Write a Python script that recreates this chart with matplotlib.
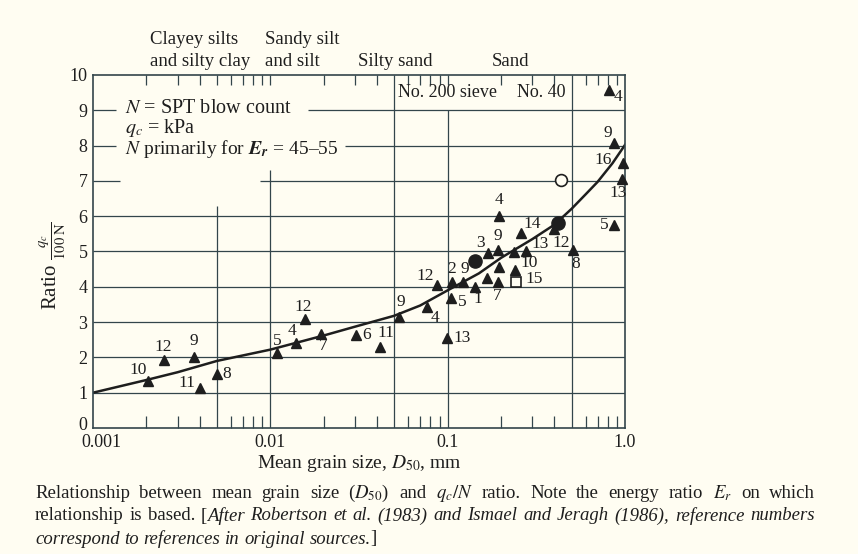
import matplotlib.pyplot as plt
from matplotlib.ticker import FixedLocator, NullFormatter, NullLocator
from matplotlib.transforms import ScaledTranslation

plt.rcParams['font.family'] = ['Liberation Serif', 'DejaVu Serif']
plt.rcParams['mathtext.fontset'] = 'stix'

# filled triangles: mean grain size (mm), ratio qc/100N, reference number
tri_x = [0.00203, 0.00252, 0.00371, 0.00399, 0.0050, 0.0109, 0.0140, 0.0156, 0.0193, 0.0305,
         0.0413, 0.0531, 0.0767, 0.0986, 0.105, 0.0875, 0.1055, 0.122, 0.1426, 0.166,
         0.191, 0.196, 0.239, 0.169, 0.193, 0.237, 0.278, 0.258, 0.196, 0.399,
         0.510, 0.870, 0.870, 0.978, 0.957, 0.809]
tri_y = [1.33, 1.93, 2.00, 1.12, 1.53, 2.12, 2.40, 3.09, 2.65, 2.63,
         2.30, 3.14, 3.44, 2.54, 3.67, 4.05, 4.14, 4.14, 3.99, 4.24,
         4.14, 4.57, 4.48, 4.97, 5.04, 4.98, 5.02, 5.53, 6.01, 5.64,
         5.04, 5.75, 8.07, 7.50, 7.05, 9.58]
tri_lab = ['10', '12', '9', '11', '8', '5', '4', '12', '7', '6',
           '11', '9', '4', '13', '5', '12', '2', '9', '1', '',
           '7', '', '10', '3', '9', '', '13', '14', '4', '12',
           '8', '5', '9', '16', '13', '4']

# other symbols
dot_x = [0.1417, 0.419]
dot_y = [4.74, 5.80]
ring_x = [0.437]
ring_y = [7.03]
sq_x = [0.242]
sq_y = [4.13]
sq_lab = ['15']

# fitted relationship
curve_x = [0.001, 0.002, 0.003, 0.005, 0.01, 0.02, 0.03, 0.05, 0.07, 0.1,
           0.15, 0.2, 0.3, 0.4, 0.5, 0.6, 0.7, 0.85, 1.0]
curve_y = [1.00, 1.36, 1.58, 1.90, 2.22, 2.62, 2.87, 3.18, 3.47, 3.90,
           4.38, 4.82, 5.35, 5.76, 6.21, 6.62, 6.97, 7.50, 8.02]

# label offsets in pixels (dx, dy up)
tri_off = [(-9, 11), (-1, 13), (0, 16), (-13, 5), (10, 0), (0, 12), (-4, 12), (-1, 12), (2, -12), (10, 0),
           (6, 14), (2, 15), (8, -11), (16, 0), (11, -4), (-12, 9), (0, 13), (2, 13), (3, -12), (0, 0),
           (0, -14), (0, 0), (14, 7), (-8, 10), (0, 14), (0, 0), (14, 7), (12, 9), (0, 16), (7, -14),
           (3, -14), (-10, 0), (-6, 10), (-20, 3), (-3, -14), (9, -7)]

bg = '#fffdf2'
ink = '#1e1e1e'
gridc = '#33454b'

fig = plt.figure(figsize=(8.58, 5.54), dpi=100, facecolor=bg)
ax = fig.add_axes([93 / 858, 126 / 554, 532 / 858, 353 / 554])
ax.set_facecolor(bg)
ax.set_xscale('log')
ax.set_xlim(0.001, 1.0)
ax.set_ylim(0, 10)

for s in ax.spines.values():
    s.set_linewidth(1.2)
    s.set_color(gridc)

# grid, partly interrupted like the original
vgrid = [(0.005, 0, 6.3), (0.01, 0, 7.3), (0.05, 0, 10), (0.1, 0, 9), (0.5, 0, 10)]
for gx, y0, y1 in vgrid:
    ax.vlines(gx, y0, y1, color=gridc, lw=0.9, zorder=1)
hgrid = [(1, 0.001, 1), (2, 0.001, 1), (3, 0.001, 1), (4, 0.001, 1), (5, 0.001, 1), (6, 0.001, 1),
         (7, 0.001, 0.00142), (7, 0.00878, 1),
         (8, 0.001, 0.00135), (8, 0.0265, 1),
         (9, 0.001, 0.00135), (9, 0.0164, 1)]
for gy, x0, x1 in hgrid:
    ax.hlines(gy, x0, x1, color=gridc, lw=0.9, zorder=1)

# ticks
ax.xaxis.set_major_locator(FixedLocator([0.001, 0.01, 0.1, 1.0]))
ax.set_xticklabels(['0.001', '0.01', '0.1', '1.0'])
bot_minor = [m * d for d in (0.001, 0.01, 0.1) for m in (2, 3, 4, 6, 7, 8, 9)]
ax.xaxis.set_minor_locator(FixedLocator(bot_minor))
ax.xaxis.set_minor_formatter(NullFormatter())
ax.tick_params(axis='x', which='major', length=0, pad=4, labelsize=13, colors=ink)
ax.tick_params(axis='x', which='minor', direction='in', length=8.5, width=0.9, color=gridc)
ax.set_yticks(range(11))
ax.tick_params(axis='y', length=0, pad=4, labelsize=13, colors=ink)
# corner labels are nudged apart, as in the original
first = ax.get_xticklabels()[0]
first.set_transform(first.get_transform() + ScaledTranslation(0.08, 0, fig.dpi_scale_trans))
zero = ax.get_yticklabels()[0]
zero.set_transform(zero.get_transform() + ScaledTranslation(0, 0.04, fig.dpi_scale_trans))

top = ax.secondary_xaxis('top')
top_ticks = ([m * 0.001 for m in range(2, 11)] + [m * 0.01 for m in (2, 3, 4, 6, 7, 8, 9, 10)]
             + [m * 0.1 for m in (2, 3, 4, 6, 7, 8, 9)])
top.xaxis.set_major_locator(FixedLocator(top_ticks))
top.xaxis.set_minor_locator(NullLocator())
top.xaxis.set_major_formatter(NullFormatter())
top.tick_params(direction='in', length=7, width=0.9, color=gridc)
top.spines['top'].set_visible(False)

# curve and points
ax.plot(curve_x, curve_y, color=ink, lw=1.8, zorder=2)
ax.plot(tri_x, tri_y, '^', ms=7.5, color=ink, clip_on=False, zorder=3)
ax.plot(dot_x, dot_y, 'o', ms=9.5, color=ink, clip_on=False, zorder=3)
ax.plot(ring_x, ring_y, 'o', ms=8.5, mfc=bg, mec=ink, mew=1.2, zorder=3)
ax.plot(sq_x, sq_y, 's', ms=7, mfc=bg, mec=ink, mew=1.2, zorder=3)

for x, y, lab, (dx, dy) in zip(tri_x, tri_y, tri_lab, tri_off):
    if lab:
        ax.annotate(lab, (x, y), xytext=(dx, dy), textcoords='offset pixels',
                    ha='center', va='center', fontsize=12.5, color=ink, annotation_clip=False)
ax.annotate(sq_lab[0], (sq_x[0], sq_y[0]), xytext=(18, 3), textcoords='offset pixels',
            ha='center', va='center', fontsize=12.5, color=ink)

# notes inside the chart
ax.text(0.00152, 9.04, r'$N$ = SPT blow count', fontsize=14.5, color=ink, va='center', ha='left')
ax.text(0.00152, 8.50, r'$q_c$ = kPa', fontsize=14.5, color=ink, va='center', ha='left')
ax.text(0.00152, 7.90, r'$N$ primarily for $\mathbfit{E_r}$ = 45–55', fontsize=14, color=ink,
        va='center', ha='left')
ax.text(0.0525, 9.5, 'No. 200 sieve', fontsize=13, color=ink, va='center', ha='left')
ax.text(0.46, 9.5, 'No. 40', fontsize=13, color=ink, va='center', ha='right')

# soil classes above the chart
fig.text(150 / 858, 1 - 40 / 554, 'Clayey silts', fontsize=13.5, color=ink, va='center')
fig.text(150 / 858, 1 - 62 / 554, 'and silty clay', fontsize=13.5, color=ink, va='center')
fig.text(265 / 858, 1 - 40 / 554, 'Sandy silt', fontsize=13.5, color=ink, va='center')
fig.text(265 / 858, 1 - 62 / 554, 'and silt', fontsize=13.5, color=ink, va='center')
fig.text(358 / 858, 1 - 62 / 554, 'Silty sand', fontsize=13.5, color=ink, va='center')
fig.text(492 / 858, 1 - 62 / 554, 'Sand', fontsize=13.5, color=ink, va='center')

ax.set_xlabel(r'Mean grain size, $D_{50}$, mm', fontsize=14, color=ink, labelpad=2)
ax.set_ylabel(r'Ratio $\frac{q_c}{100\ \mathrm{N}}$', fontsize=15, color=ink)
ax.yaxis.set_label_coords(-0.045, 0.46)

# caption, justified word by word
renderer = fig.canvas.get_renderer()


def caption_line(ypix, words, width=None, size=13.5):
    placed = []
    total = 0
    for word in words:
        parts = []
        for txt, style in word:
            t = fig.text(0, 1 - ypix / 554, txt, fontsize=size, style=style,
                         color=ink, va='center', ha='left')
            w = t.get_window_extent(renderer=renderer).width
            parts.append((t, w))
            total += w
        placed.append(parts)
    if width is None:
        gap = size * 0.25 * 100 / 72
    else:
        gap = (width - total) / (len(words) - 1)
    xpix = 35
    for parts in placed:
        for t, w in parts:
            t.set_x(xpix / 858)
            xpix += w
        xpix += gap


def words_of(text, style):
    return [[(w, style)] for w in text.split(' ')]


line1 = (words_of('Relationship between mean grain size', 'normal')
         + [[(r'($D_{50}$)', 'normal')], [('and', 'normal')], [(r'$q_c/N$', 'normal')]]
         + words_of('ratio. Note the energy ratio', 'normal')
         + [[(r'$E_r$', 'normal')]] + words_of('on which', 'normal'))
line2 = (words_of('relationship is based.', 'normal')
         + [[('[', 'normal'), ('After', 'italic')]]
         + words_of('Robertson et al. (1983) and Ismael and Jeragh (1986), reference numbers',
                    'italic'))
line3 = (words_of('correspond to references in original', 'italic')
         + [[('sources.', 'italic'), (']', 'normal')]])

caption_line(493, line1, width=780)
caption_line(516, line2, width=780)
caption_line(539, line3)

fig.savefig('out.png', dpi=100, facecolor=bg)
